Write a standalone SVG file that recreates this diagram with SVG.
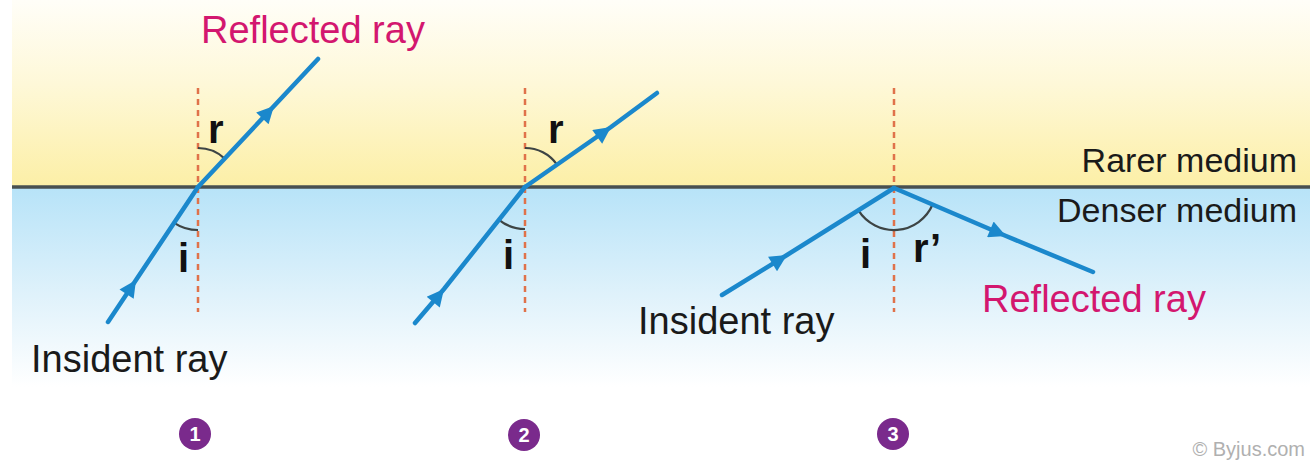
<svg xmlns="http://www.w3.org/2000/svg" width="1315" height="461" viewBox="0 0 1315 461">
<defs>
<linearGradient id="gTop" x1="0" y1="0" x2="0" y2="1">
<stop offset="0" stop-color="#fffef8"/>
<stop offset="0.45" stop-color="#fef8d8"/>
<stop offset="1" stop-color="#fcefa6"/>
</linearGradient>
<linearGradient id="gBot" x1="0" y1="0" x2="0" y2="1">
<stop offset="0" stop-color="#b7e3f8"/>
<stop offset="0.55" stop-color="#e0f2fb"/>
<stop offset="1" stop-color="#ffffff"/>
</linearGradient>
<marker id="arr" viewBox="0 0 10 10" refX="10" refY="5" markerUnits="userSpaceOnUse" markerWidth="21" markerHeight="17" orient="auto">
<path d="M0,0 L10,5 L0,10 z" fill="#1b88cc"/>
</marker>
<style>
.ray{fill:none;stroke:#1b88cc;stroke-width:4.5;stroke-linecap:round;marker-mid:url(#arr)}
.normal{stroke:#e0724a;stroke-width:2.5;stroke-dasharray:6 5}
.arc{fill:none;stroke:#3d4444;stroke-width:2.2}
.lbl{font-family:"Liberation Sans",Arial,sans-serif;font-size:38px;fill:#1a1a1a}
.pink{font-family:"Liberation Sans",Arial,sans-serif;font-size:38px;fill:#d3176f}
.med{font-family:"Liberation Sans",Arial,sans-serif;font-size:34px;fill:#1a1a1a;text-anchor:end}
.ang{font-family:"Liberation Sans",Arial,sans-serif;font-size:40px;font-weight:bold;fill:#111}
.num{fill:#7a2a8c}
.numt{font-family:"Liberation Sans",Arial,sans-serif;font-size:20px;font-weight:bold;fill:#ffffff;text-anchor:middle}
</style>
</defs>
<g id="background">
<rect x="0" y="0" width="1315" height="461" fill="#ffffff"/>
<rect x="12" y="0" width="1298" height="187" fill="url(#gTop)"/>
<rect x="12" y="187" width="1298" height="200" fill="url(#gBot)"/>
<line x1="12" y1="187" x2="1310" y2="187" stroke="#485050" stroke-width="3.5"/>
</g>
<g id="media-labels">
<text class="med" x="1297" y="172">Rarer medium</text>
<text class="med" x="1297" y="222">Denser medium</text>
</g>
<g id="diagram1">
<line class="normal" x1="198" y1="88" x2="198" y2="312"/>
<path class="arc" d="M198,148 A39,39 0 0 1 224.7,158.6"/>
<path class="arc" d="M174.1,222.8 A43,43 0 0 0 198,230"/>
<text class="ang" x="208" y="143">r</text>
<text class="ang" x="178" y="272">i</text>
<text class="pink" x="201" y="43">Reflected ray</text>
<text class="lbl" x="31" y="372">Insident ray</text>
</g>
<g id="diagram2">
<line class="normal" x1="525" y1="88" x2="525" y2="312"/>
<path class="arc" d="M525,148 A39,39 0 0 1 556.8,164.4"/>
<path class="arc" d="M498.6,219.6 A42,42 0 0 0 525,229"/>
<text class="ang" x="548" y="143">r</text>
<text class="ang" x="503" y="269">i</text>
</g>
<g id="diagram3">
<line class="normal" x1="894" y1="88" x2="894" y2="312"/>
<path class="arc" d="M858.3,210.2 A42,42 0 0 0 932.7,204.3"/>
<text class="ang" x="860" y="268">i</text>
<text class="ang" x="913" y="262">r’</text>
<text class="lbl" x="638" y="334">Insident ray</text>
<text class="pink" x="982" y="312">Reflected ray</text>
</g>
<g id="connectors">
<path class="ray" d="M108,322 L136,280 L198,187"/>
<path class="ray" d="M198,187 L274,106 L318,59"/>
<path class="ray" d="M415,323 L444,289 L525,187"/>
<path class="ray" d="M525,187 L611,127 L657,93"/>
<path class="ray" d="M722,295 L787,255 L894,188"/>
<path class="ray" d="M894,188 L1006,236 L1093,272"/>
</g>
<g id="badge1"><circle class="num" cx="195" cy="434" r="16"/><text class="numt" x="195" y="441">1</text></g>
<g id="badge2"><circle class="num" cx="524" cy="435" r="16"/><text class="numt" x="524" y="442">2</text></g>
<g id="badge3"><circle class="num" cx="893" cy="434" r="16"/><text class="numt" x="893" y="441">3</text></g>
<text x="1305" y="456" font-family="'Liberation Sans',Arial,sans-serif" font-size="20" fill="#b0b0b0" text-anchor="end">© Byjus.com</text>
</svg>
